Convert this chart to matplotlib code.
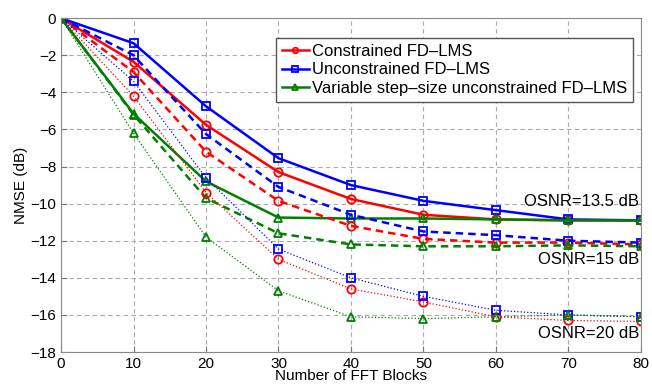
import matplotlib
matplotlib.use("Agg")
import matplotlib.pyplot as plt
from matplotlib.lines import Line2D

plt.rcParams["font.family"] = ["Liberation Sans", "DejaVu Sans"]

blocks = [0, 10, 20, 30, 40, 50, 60, 70, 80]

# OSNR = 13.5 dB (solid)
con_135 = [0, -2.35, -5.75, -8.3, -9.75, -10.6, -10.85, -10.9, -10.9]
unc_135 = [0, -1.35, -4.75, -7.55, -9.0, -9.85, -10.35, -10.85, -10.9]
var_135 = [0, -5.15, -8.8, -10.75, -10.8, -10.8, -10.85, -10.9, -10.9]

# OSNR = 15 dB (dashed)
con_15 = [0, -2.9, -7.2, -9.85, -11.2, -11.9, -12.1, -12.1, -12.2]
unc_15 = [0, -2.0, -6.25, -9.1, -10.6, -11.5, -11.7, -12.0, -12.1]
var_15 = [0, -5.2, -9.7, -11.6, -12.2, -12.3, -12.3, -12.25, -12.3]

# OSNR = 20 dB (dotted)
con_20 = [0, -4.2, -9.4, -13.0, -14.6, -15.3, -16.1, -16.3, -16.35]
unc_20 = [0, -3.4, -8.6, -12.45, -14.0, -15.0, -15.75, -16.0, -16.1]
var_20 = [0, -6.2, -11.8, -14.7, -16.1, -16.2, -16.1, -16.0, -16.1]

labels = ["Constrained FD\u2013LMS", "Unconstrained FD\u2013LMS",
          "Variable step\u2013size unconstrained FD\u2013LMS"]
colors = ["#ff0000", "#0000ff", "#008000"]
markers = ["o", "s", "^"]

fig = plt.figure(figsize=(6.52, 3.87), dpi=100)
ax = fig.add_axes([0.0936, 0.0904, 0.8894, 0.8626])

groups = [
    ([con_135, unc_135, var_135], "-", 1.8),
    ([con_15, unc_15, var_15], (0, (3, 2)), 1.8),
    ([con_20, unc_20, var_20], ":", 0.9),
]
for series, ls, lw in groups:
    for y, c, m in zip(series, colors, markers):
        ax.plot(blocks, y, color=c, linestyle=ls, linewidth=lw, marker=m,
                markersize=6, markerfacecolor="none", markeredgecolor=c,
                markeredgewidth=1.3)

ax.set_xlim(0, 80)
ax.set_ylim(-18, 0)
ax.set_xticks(range(0, 81, 10))
ax.set_yticks(range(-18, 1, 2))
ax.tick_params(direction="in", labelsize=11, length=4, color="#777777")
ax.grid(True, linestyle=(0, (4, 3)), color="#aaaaaa", linewidth=0.8)
for s in ax.spines.values():
    s.set_color("#888888")

ax.set_xlabel("Number of FFT Blocks", fontsize=11, labelpad=-1)
ax.set_ylabel("NMSE (dB)", fontsize=11, labelpad=2)

ax.text(79.8, -9.9, "OSNR=13.5 dB", fontsize=12, ha="right", va="center")
ax.text(79.8, -13.0, "OSNR=15 dB", fontsize=12, ha="right", va="center")
ax.text(79.8, -17.0, "OSNR=20 dB", fontsize=12, ha="right", va="center")

handles = [Line2D([0], [0], color=c, marker=m, markersize=4, linewidth=1.8,
                  markerfacecolor="none", markeredgecolor=c, markeredgewidth=1.3)
           for c, m in zip(colors, markers)]
leg = ax.legend(handles, labels, loc="upper right", fontsize=12,
                handlelength=1.6, handletextpad=0.2, borderaxespad=0.0,
                borderpad=0.35, labelspacing=0.2, fancybox=False, framealpha=1,
                bbox_to_anchor=(0.986, 0.94))
leg.get_frame().set_edgecolor("#555555")

fig.savefig("out.png", dpi=100)
